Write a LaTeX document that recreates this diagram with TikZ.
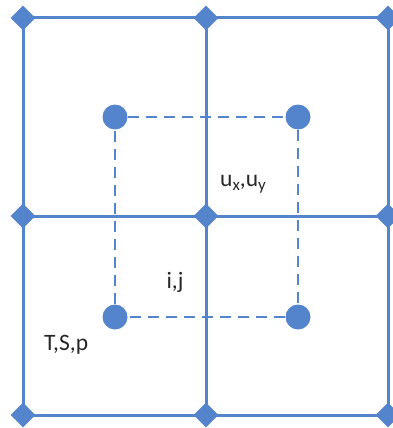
\documentclass[tikz,border=0pt]{standalone}
\usepackage{fontspec}
\setmainfont{Carlito}
\usetikzlibrary{shapes.geometric}
\definecolor{gblue}{RGB}{84,132,204}
\newcommand{\sbx}[1]{\raisebox{-4.5pt}{\fontsize{17}{20}\selectfont #1}}
\begin{document}
\begin{tikzpicture}[x=1pt,y=-1pt,
  dmd/.style={diamond,fill=gblue,inner sep=0pt,minimum size=25pt},
  dot/.style={circle,fill=gblue,inner sep=0pt,minimum size=25pt},
  grid/.style={draw=gblue,line width=3pt},
  dsh/.style={draw=gblue,line width=2pt,dash pattern=on 11pt off 7pt},
  lbl/.style={font=\fontsize{23.5}{26}\selectfont,text=black!85,inner sep=0pt}]
\useasboundingbox (0,0) rectangle (393,428);
% dashed square
\node[dot] (c1) at (115,117) {};
\node[dot] (c2) at (298,117) {};
\node[dot] (c3) at (115,317) {};
\node[dot] (c4) at (298,317) {};
\draw[dsh] (c1) -- (c2) -- (c4) -- (c3) -- (c1);
% grid nodes
\coordinate (a1) at (23,18);
\coordinate (a2) at (206,18);
\coordinate (a3) at (388,18);
\coordinate (b1) at (23,216);
\coordinate (b2) at (206,216);
\coordinate (b3) at (388,216);
\coordinate (d1) at (23,415);
\coordinate (d2) at (206,415);
\coordinate (d3) at (388,415);
\draw[grid] (a1) -- (a3) (b1) -- (b3) (d1) -- (d3)
            (a1) -- (d1) (a2) -- (d2) (a3) -- (d3);
\foreach \p in {a1,a2,a3,b1,b2,b3,d1,d2,d3}
  \node[dmd] at (\p) {};
% labels
\node[lbl,anchor=base west] (uv) at (220,186) {u\sbx{x},u\sbx{y}};
\node[lbl,anchor=base] (ij) at (175,288) {i,j};
\node[lbl,anchor=base west] (tsp) at (44,350) {T,S,p};
\end{tikzpicture}
\end{document}
